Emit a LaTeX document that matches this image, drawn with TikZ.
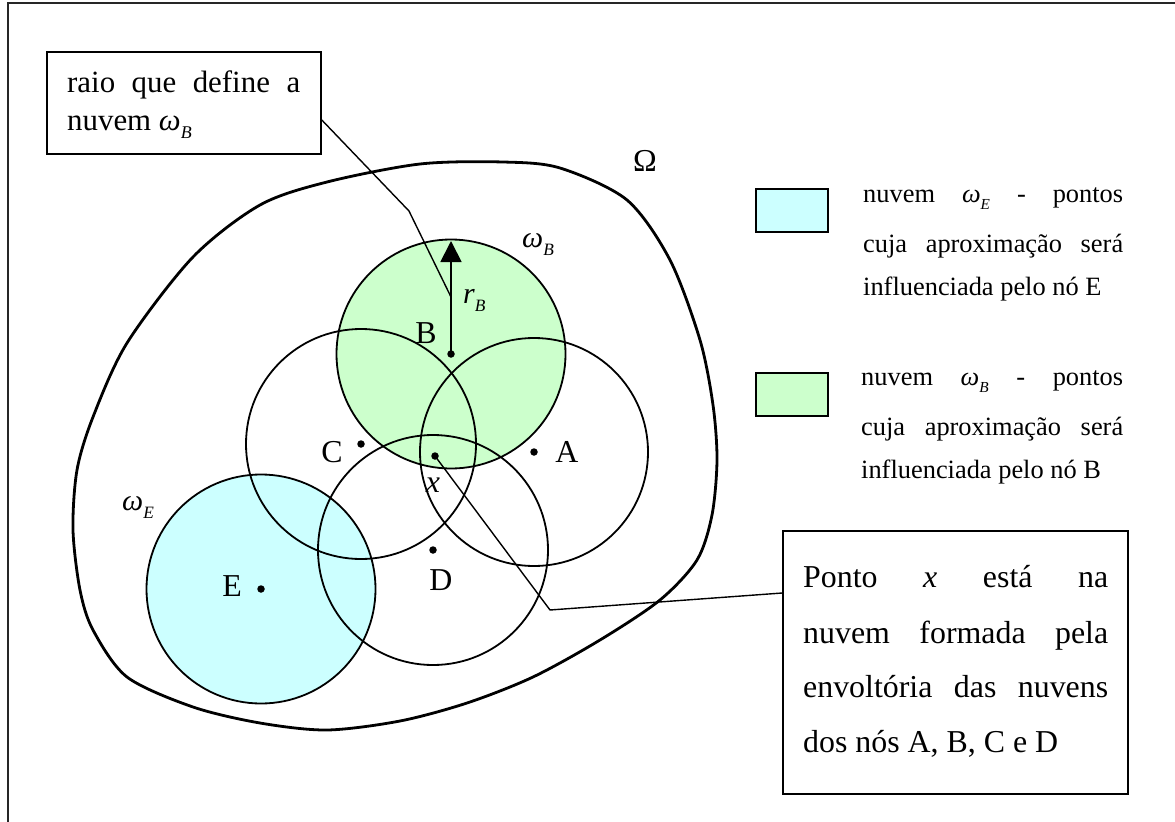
\documentclass[tikz,border=0pt]{standalone}
\usepackage{fontspec}
\usepackage{graphicx}
\setmainfont{Liberation Serif}
\usetikzlibrary{arrows.meta}
\definecolor{cloudgreen}{HTML}{CCFFCC}
\definecolor{cloudcyan}{HTML}{CCFFFF}
\newcommand\wsub[2]{\textit{#1}\raisebox{-0.28em}{\scalebox{0.58}{\textit{#2}}}}
\tikzset{
  circ/.style={draw, line width=1.8bp},
  ptdot/.style={circle, fill=black, inner sep=0pt, minimum size=7.5bp},
  lbl/.style={inner sep=0pt, anchor=base, font=\fontsize{32}{38}\selectfont},
  lblw/.style={inner sep=0pt, anchor=base west, font=\fontsize{30}{36}\selectfont},
  boxed/.style={draw, line width=1.6bp, rectangle, inner sep=0pt},
  leader/.style={line width=1.4bp},
  legtxt/.style={inner sep=0pt, anchor=base west, font=\fontsize{26.5}{30}\selectfont},
  tltxt/.style={inner sep=0pt, anchor=base west, font=\fontsize{31}{36}\selectfont},
  brtxt/.style={inner sep=0pt, anchor=base west, font=\fontsize{32}{38}\selectfont},
}
\begin{document}
\begin{tikzpicture}[x=1bp, y=-1bp]
\useasboundingbox (0,0) rectangle (1175,822);
% outer frame
\draw[line width=1.8bp, black!85] (1180,3) -- (8,3) -- (8,830);

% centres
\coordinate (pB) at (451,354);
\coordinate (pC) at (361,444);
\coordinate (pA) at (534,452);
\coordinate (pD) at (433,550);
\coordinate (pE) at (261,589);
\coordinate (px) at (435,456);

% domain Omega
\draw[line width=2.8bp] plot[smooth cycle, tension=0.5] coordinates {
 (80,590) (73,530) (77,470) (93,417) (127,343) (193,257) (260,205)
 (327,182) (420,164) (503,162) (560,168) (627,200) (670,260) (700,340)
 (713,405) (717,460) (712,515) (697,560) (660,600) (600,640) (533,677)
 (467,703) (400,721) (327,730) (260,723) (193,707) (127,677) (93,630)};

% fills
\fill[cloudgreen] (pB) circle (114.5);
\fill[cloudcyan] (pE) circle (114.5);
% circles
\draw[circ] (pB) circle (114.5);
\draw[circ] (pE) circle (114.5);
\draw[circ] (pC) circle (115);
\draw[circ] (pA) circle (114);
\draw[circ] (pD) circle (115);

% dots
\node[ptdot] (B) at (pB) {};
\node[ptdot] (C) at (pC) {};
\node[ptdot] (A) at (pA) {};
\node[ptdot] (D) at (pD) {};
\node[ptdot] (E) at (pE) {};
\node[ptdot] (X) at (px) {};

% radius arrow
\coordinate (rtop) at (451,241);
\draw[line width=1.8bp, -{Triangle[length=21bp,width=21bp]}] (B.center) -- (rtop);

% labels
\node[lbl] (lB) at (426,343) {B};
\node[lbl] (lC) at (332,462) {C};
\node[lbl] (lA) at (567,462) {A};
\node[lbl] (lD) at (441,590) {D};
\node[lbl] (lE) at (232,596) {E};
\node[lbl] (lOm) at (645,171) {Ω};
\node[lbl] (lx) at (433,492) {\textit{x}};
\node[lblw] (lrB) at (463,303) {\wsub{r}{B}};
\node[lblw] (lwB) at (522,247) {\wsub{ω}{B}};
\node[lblw] (lwE) at (122,510) {\wsub{ω}{E}};

% top-left box
\node[boxed, minimum width=274bp, minimum height=102bp] (tl) at (184,103) {};
\node[tltxt] (tl1) at (67,93) {\hbox to 233bp{raio\hfill que\hfill define\hfill a}};
\node[tltxt] (tl2) at (67,130) {nuvem \wsub{ω}{B}};
\coordinate (k1) at (409,211);
\coordinate (k2) at (451,297);
\draw[leader] ([yshift=-17bp]tl.east) -- (k1) -- (k2);

% legend
\node[boxed, fill=cloudcyan, minimum width=72bp, minimum height=43bp] (legE) at (792,210.5) {};
\node[legtxt] (le1) at (863,202) {\hbox to 260bp{nuvem\hfill\wsub{ω}{E}\hfill-\hfill pontos}};
\node[legtxt] (le2) at (863,252) {\hbox to 260bp{cuja\hfill aproximação\hfill será}};
\node[legtxt] (le3) at (863,295) {influenciada pelo nó E};
\node[boxed, fill=cloudgreen, minimum width=72bp, minimum height=43bp] (legB) at (792,394.5) {};
\node[legtxt] (lb1) at (861,385) {\hbox to 262bp{nuvem\hfill\wsub{ω}{B}\hfill-\hfill pontos}};
\node[legtxt] (lb2) at (861,435) {\hbox to 262bp{cuja\hfill aproximação\hfill será}};
\node[legtxt] (lb3) at (861,478) {influenciada pelo nó B};

% bottom-right box
\node[boxed, minimum width=345bp, minimum height=263bp] (br) at (955.5,662.5) {};
\node[brtxt] (br1) at (803,587) {\hbox to 305bp{Ponto\hfill\textit{x}\hfill está\hfill na}};
\node[brtxt] (br2) at (803,643) {\hbox to 305bp{nuvem\hfill formada\hfill pela}};
\node[brtxt] (br3) at (803,697) {\hbox to 305bp{envoltória\hfill das\hfill nuvens}};
\node[brtxt] (br4) at (803,752) {dos nós A, B, C e D};
\coordinate (k3) at (550,610);
\draw[leader] (X.center) -- (k3) -- ([yshift=69.5bp]br.west);
\end{tikzpicture}
\end{document}
